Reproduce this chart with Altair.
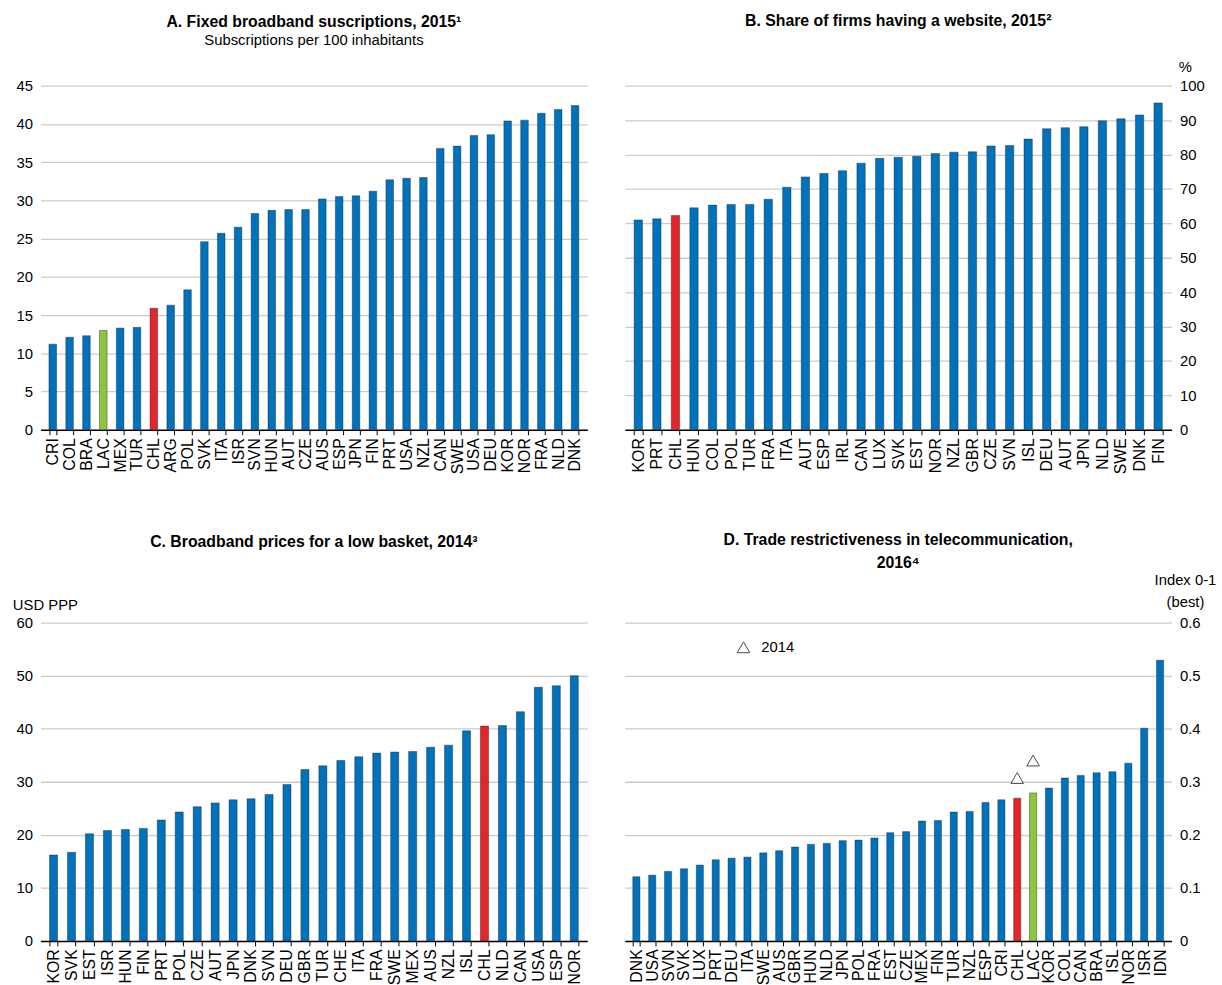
import altair as alt
import pandas as pd

FONT = "Liberation Sans"
BLUE = "#0072BC"
RED = "#E3262B"
GREEN = "#8CC63F"

# Panel A: fixed broadband subscriptions per 100 inhabitants, 2015
a_codes = ["CRI", "COL", "BRA", "LAC", "MEX", "TUR", "CHL", "ARG", "POL", "SVK", "ITA", "ISR",
           "SVN", "HUN", "AUT", "CZE", "AUS", "ESP", "JPN", "FIN", "PRT", "USA", "NZL", "CAN",
           "SWE", "USA", "DEU", "KOR", "NOR", "FRA", "NLD", "DNK"]
a_vals = [11.2, 12.1, 12.3, 13.0, 13.3, 13.4, 15.9, 16.3, 18.3, 24.6, 25.7, 26.5,
          28.3, 28.7, 28.8, 28.8, 30.2, 30.5, 30.6, 31.2, 32.7, 32.9, 33.0, 36.8,
          37.1, 38.5, 38.6, 40.4, 40.5, 41.4, 41.9, 42.4]

# Panel B: share of firms having a website, 2015 (%)
b_codes = ["KOR", "PRT", "CHL", "HUN", "COL", "POL", "TUR", "FRA", "ITA", "AUT", "ESP", "IRL",
           "CAN", "LUX", "SVK", "EST", "NOR", "NZL", "GBR", "CZE", "SVN", "ISL", "DEU", "AUT",
           "JPN", "NLD", "SWE", "DNK", "FIN"]
b_vals = [61.0, 61.3, 62.3, 64.5, 65.3, 65.5, 65.5, 67.0, 70.5, 73.5, 74.5, 75.3,
          77.5, 78.9, 79.2, 79.5, 80.3, 80.7, 80.8, 82.5, 82.6, 84.5, 87.5, 87.8,
          88.1, 89.8, 90.4, 91.5, 95.0]

# Panel C: broadband prices for a low basket, 2014 (USD PPP)
c_codes = ["KOR", "SVK", "EST", "ISR", "HUN", "FIN", "PRT", "POL", "CZE", "AUT", "JPN", "DNK",
           "SVN", "DEU", "GBR", "TUR", "CHE", "ITA", "FRA", "SWE", "MEX", "AUS", "NZL", "ISL",
           "CHL", "NLD", "CAN", "USA", "ESP", "NOR"]
c_vals = [16.2, 16.7, 20.2, 20.8, 21.0, 21.2, 22.8, 24.3, 25.3, 26.0, 26.6, 26.8,
          27.6, 29.5, 32.3, 33.0, 34.0, 34.7, 35.4, 35.6, 35.7, 36.5, 36.9, 39.6,
          40.5, 40.6, 43.2, 47.8, 48.1, 50.0]

# Panel D: trade restrictiveness in telecommunication, 2016 (index 0-1)
d_codes = ["DNK", "USA", "SVN", "SVK", "LUX", "PRT", "DEU", "ITA", "SWE", "AUS", "GBR", "HUN",
           "NLD", "JPN", "POL", "FRA", "EST", "CZE", "MEX", "FIN", "TUR", "NZL", "ESP", "CRI",
           "CHL", "LAC", "KOR", "COL", "CAN", "BRA", "ISL", "NOR", "ISR", "IDN"]
d_vals = [0.121, 0.124, 0.131, 0.136, 0.143, 0.153, 0.156, 0.158, 0.166, 0.170, 0.177, 0.182,
          0.184, 0.189, 0.190, 0.194, 0.204, 0.206, 0.226, 0.227, 0.243, 0.244, 0.261, 0.266,
          0.269, 0.279, 0.288, 0.307, 0.312, 0.317, 0.319, 0.335, 0.401, 0.529]
d2014_codes = ["CHL", "LAC"]
d2014_vals = [0.307, 0.340]


def make_df(codes, vals):
    return pd.DataFrame({
        "key": [f"{i:02d}{c}" for i, c in enumerate(codes)],
        "code": codes,
        "value": vals,
        "grp": ["CHL" if c == "CHL" else "LAC" if c == "LAC" else "Other" for c in codes],
    })


def x_enc():
    return alt.X(
        "key:N", sort=None, title=None,
        scale=alt.Scale(paddingInner=0.55, paddingOuter=0.5),
        axis=alt.Axis(labelExpr="isString(datum.value) ? substring(datum.value, 2) : ''",
                      labelAngle=270, labelFontSize=16,
                      labelColor="black", labelFont=FONT, domainColor="black", domainWidth=1.5,
                      tickColor="black", tickSize=5, tickBand="extent", labelPadding=3,
                      grid=False),
    )


def y_enc(domain, values, orient, fmt):
    return alt.Y(
        "value:Q", title=None,
        scale=alt.Scale(domain=domain, nice=False),
        axis=alt.Axis(values=values, orient=orient, domain=False, ticks=False, format=fmt,
                      gridColor="#cccccc", gridWidth=1.3, labelFontSize=15,
                      labelFont=FONT, labelColor="black", labelPadding=8),
    )


def color_enc():
    return alt.Color("grp:N", scale=alt.Scale(domain=["Other", "CHL", "LAC"],
                                              range=[BLUE, RED, GREEN]), legend=None)


def bar_chart(df, domain, values, orient, fmt="d"):
    return alt.Chart(df).mark_bar(stroke="#1a1a1a", strokeWidth=0.4).encode(
        x=x_enc(), y=y_enc(domain, values, orient, fmt), color=color_enc()
    )


def unit_text(label, x, y, align):
    return alt.Chart(pd.DataFrame({"t": [label]})).mark_text(
        align=align, baseline="middle", fontSize=15, font=FONT, color="black"
    ).encode(text="t:N", x=alt.value(x), y=alt.value(y))


def title(text, offset, subtitle=None):
    kw = dict(text=text, font=FONT, fontSize=16, fontWeight="bold", color="black",
              lineHeight=23, anchor="middle", frame="group", offset=offset)
    if subtitle:
        kw.update(subtitle=subtitle, subtitleFont=FONT, subtitleFontSize=15,
                  subtitleColor="black", subtitlePadding=3)
    return alt.TitleParams(**kw)


W = 553
H_TOP = 348
H_BOT = 322

# Panel A
dfa = make_df(a_codes, a_vals)
pa = bar_chart(dfa, [0, 45], list(range(0, 50, 5)), "left").properties(
    width=W, height=H_TOP,
    title=title("A. Fixed broadband suscriptions, 2015¹", 31,
                subtitle="Subscriptions per 100 inhabitants"),
)

# Panel B
dfb = make_df(b_codes, b_vals)
pb = alt.layer(
    bar_chart(dfb, [0, 100], list(range(0, 110, 10)), "right"),
    unit_text("%", W + 14, -19, "center"),
).properties(
    width=W, height=H_TOP,
    title=title("B. Share of firms having a website, 2015²", 31),
)

# Panel C
dfc = make_df(c_codes, c_vals)
pc = alt.layer(
    bar_chart(dfc, [0, 60], list(range(0, 70, 10)), "left"),
    unit_text("USD PPP", -28, -18, "left"),
).properties(
    width=W, height=H_BOT,
    title=title("C. Broadband prices for a low basket, 2014³", 48),
)

# Panel D
dfd = make_df(d_codes, d_vals)
key_map = dict(zip(dfd["code"], dfd["key"]))
dfd14 = pd.DataFrame({"key": [key_map[c] for c in d2014_codes], "value": d2014_vals})
tri = alt.Chart(dfd14).mark_point(
    shape="triangle-up", filled=True, fill="white", stroke="black", strokeWidth=1, size=160
).encode(x=alt.X("key:N", sort=None), y=alt.Y("value:Q"))
leg_tri = alt.Chart(pd.DataFrame({"t": ["2014"]})).mark_point(
    shape="triangle-up", filled=True, fill="white", stroke="black", strokeWidth=1, size=160
).encode(x=alt.value(120), y=alt.value(25))
leg_txt = unit_text("2014", 138, 25, "left")
pd_chart = alt.layer(
    bar_chart(dfd, [0, 0.6], [0, 0.1, 0.2, 0.3, 0.4, 0.5, 0.6], "right", ".1~f"),
    tri, leg_tri, leg_txt,
    unit_text("Index 0-1", W + 14, -43, "center"),
    unit_text("(best)", W + 14, -21, "center"),
).properties(
    width=W, height=H_BOT,
    title=title(["D. Trade restrictiveness in telecommunication,", "2016⁴"], 2),
)

chart = alt.vconcat(
    alt.hconcat(pa, pb, spacing=30),
    alt.hconcat(pc, pd_chart, spacing=30),
    spacing=59,
).properties(padding={"left": 13, "top": 8, "right": 5, "bottom": 5}).configure_view(strokeWidth=0)

chart.save("out.html", embed_options={"renderer": "svg", "actions": False})
